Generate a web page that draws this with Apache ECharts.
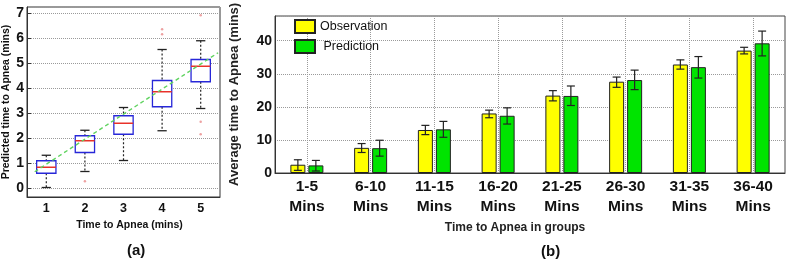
<!DOCTYPE html>
<html>
<head>
<meta charset="utf-8">
<script src="https://cdn.jsdelivr.net/npm/echarts@6/dist/echarts.min.js"></script>
<style>
  html, body { margin: 0; padding: 0; background: #fff; }
  #chart { width: 788px; height: 265px; }
</style>
</head>
<body>
<div id="chart"></div>
<script type="text/javascript">
// (a) box plot: predicted vs actual time to apnea
var boxCats = ['1', '2', '3', '4', '5'];
var boxLow  = [0.04, 0.68, 1.12, 2.31, 3.20];
var boxQ1   = [0.61, 1.44, 2.17, 3.27, 4.27];
var boxMed  = [0.85, 1.91, 2.61, 3.87, 4.89];
var boxQ3   = [1.11, 2.11, 2.91, 4.32, 5.16];
var boxHigh = [1.33, 2.33, 3.24, 5.56, 5.91];
// outliers: [category index, value]
var outliers = [[1, 0.29], [3, 6.17], [3, 6.37], [4, 2.17], [4, 2.67], [4, 6.93]];
// dashed fit line, [x, y] on the 1..5 scale
var fitLine = [[0.7, 0.67], [5.45, 5.43]];

// (b) grouped bars with error bars
var groupLabels = ['1-5\nMins', '6-10\nMins', '11-15\nMins', '16-20\nMins', '21-25\nMins', '26-30\nMins', '31-35\nMins', '36-40\nMins'];
var obsMean  = [2.5, 7.6, 13.0, 18.0, 23.4, 27.6, 32.8, 37.0];
var obsLow   = [0.8, 6.2, 11.6, 16.7, 21.8, 25.9, 31.4, 36.0];
var obsHigh  = [4.0, 8.9, 14.4, 19.0, 24.9, 29.0, 34.2, 38.0];
var predMean = [2.3, 7.5, 13.2, 17.3, 23.3, 28.1, 32.0, 39.2];
var predLow  = [0.6, 5.1, 10.8, 14.8, 20.4, 25.2, 28.7, 35.4];
var predHigh = [3.8, 9.9, 15.6, 19.7, 26.3, 31.1, 35.2, 42.9];

var FONT = '"Liberation Sans", Arial, sans-serif';
var myChart = echarts.init(document.getElementById('chart'));

// box: blue frame, red median, dashed black whiskers
function renderBox(params, api) {
	var i = api.value(0);
	var band = api.size([1, 0])[0];
	var hw = band * 0.25, cw = band * 0.12;
	var pLow = api.coord([i, api.value(1)]);
	var pQ1 = api.coord([i, api.value(2)]);
	var pMed = api.coord([i, api.value(3)]);
	var pQ3 = api.coord([i, api.value(4)]);
	var pHigh = api.coord([i, api.value(5)]);
	var x = pMed[0];
	var dash = { stroke: '#222', lineWidth: 1.2, lineDash: [2, 2] };
	var solid = { stroke: '#222', lineWidth: 1.3 };
	return {
		type: 'group',
		children: [
			{ type: 'line', shape: { x1: x, y1: pHigh[1], x2: x, y2: pQ3[1] }, style: dash },
			{ type: 'line', shape: { x1: x, y1: pQ1[1], x2: x, y2: pLow[1] }, style: dash },
			{ type: 'line', shape: { x1: x - cw, y1: pHigh[1], x2: x + cw, y2: pHigh[1] }, style: solid },
			{ type: 'line', shape: { x1: x - cw, y1: pLow[1], x2: x + cw, y2: pLow[1] }, style: solid },
			{ type: 'rect', shape: { x: x - hw, y: pQ3[1], width: hw * 2, height: pQ1[1] - pQ3[1] },
			  style: { fill: '#fff', stroke: '#2727d8', lineWidth: 1.3 } },
			{ type: 'line', shape: { x1: x - hw, y1: pMed[1], x2: x + hw, y2: pMed[1] },
			  style: { stroke: '#e8322a', lineWidth: 1.5 } }
		]
	};
}

// error bar, shifted sideways onto its bar
function errorBar(offset) {
	return function (params, api) {
		var i = api.value(0);
		var lo = api.coord([i, api.value(1)]);
		var hi = api.coord([i, api.value(2)]);
		var x = lo[0] + offset, c = 4;
		var st = { stroke: '#222', lineWidth: 1.2 };
		return {
			type: 'group',
			children: [
				{ type: 'line', shape: { x1: x, y1: hi[1], x2: x, y2: lo[1] }, style: st },
				{ type: 'line', shape: { x1: x - c, y1: hi[1], x2: x + c, y2: hi[1] }, style: st },
				{ type: 'line', shape: { x1: x - c, y1: lo[1], x2: x + c, y2: lo[1] }, style: st }
			]
		};
	};
}

var boxData = boxCats.map(function (c, i) {
	return [i, boxLow[i], boxQ1[i], boxMed[i], boxQ3[i], boxHigh[i]];
});
var obsErr = obsLow.map(function (v, i) { return [i, v, obsHigh[i]]; });
var predErr = predLow.map(function (v, i) { return [i, v, predHigh[i]]; });

var bold = { fontFamily: FONT, fontWeight: 'bold', color: '#111' };
var dotted = { show: true, lineStyle: { type: 'dotted', color: '#9a9a9a', width: 1 } };

option = {
	animation: false,
	backgroundColor: '#fff',
	title: [
		{ text: '(a)', left: 127, top: 243, padding: 0, textStyle: { fontFamily: FONT, fontWeight: 'bold', fontSize: 15, color: '#111' } },
		{ text: '(b)', left: 541, top: 244, padding: 0, textStyle: { fontFamily: FONT, fontWeight: 'bold', fontSize: 15, color: '#111' } }
	],
	legend: {
		data: ['Observation', ' Prediction'],
		orient: 'vertical',
		left: 294,
		top: 19,
		padding: 0,
		itemGap: 5,
		itemWidth: 20,
		itemHeight: 13,
		icon: 'rect',
		textStyle: { fontFamily: FONT, fontSize: 12.5, color: '#111' }
	},
	grid: [
		{ left: 27, top: 7, width: 193, height: 190, show: true, borderColor: '#333', borderWidth: 1 },
		{ left: 275, top: 7, width: 510, height: 166, show: true, borderColor: '#444', borderWidth: 1 }
	],
	xAxis: [
		{
			type: 'category', gridIndex: 0, data: boxCats, boundaryGap: true,
			axisLine: { onZero: false, lineStyle: { color: '#333' } },
			axisTick: { inside: true, alignWithLabel: true, length: 4, lineStyle: { color: '#333' } },
			axisLabel: Object.assign({ fontSize: 12.5, margin: 5 }, bold),
			splitLine: { show: false },
			name: 'Time to Apnea (mins)', nameLocation: 'middle', nameGap: 16,
			nameTextStyle: Object.assign({ fontSize: 10.5, padding: [0, 0, 0, 12] }, bold)
		},
		{ type: 'value', gridIndex: 0, min: 0.5, max: 5.5, show: false },
		{
			type: 'category', gridIndex: 1, data: groupLabels, boundaryGap: true,
			axisLine: { onZero: false, lineStyle: { color: '#333' } },
			axisTick: { inside: true, alignWithLabel: true, length: 4, lineStyle: { color: '#333' } },
			axisLabel: Object.assign({ fontSize: 15.5, lineHeight: 20, margin: 4 }, bold),
			splitLine: { show: true, alignWithLabel: true, lineStyle: { type: 'dotted', color: '#9a9a9a', width: 1 } },
			name: 'Time to Apnea in groups', nameLocation: 'middle', nameGap: 47,
			nameTextStyle: Object.assign({ fontSize: 12, padding: [0, 30, 0, 0] }, bold, { color: '#222' })
		}
	],
	yAxis: [
		{
			type: 'value', gridIndex: 0, min: -0.34, max: 7.26, splitNumber: 8,
			axisLine: { show: true, onZero: false, lineStyle: { color: '#333' } },
			axisTick: { inside: true, length: 4, lineStyle: { color: '#333' } },
			axisLabel: Object.assign({ fontSize: 14, margin: 3, showMinLabel: false, showMaxLabel: false }, bold),
			splitLine: dotted,
			name: 'Predicted time to Apnea (mins)', nameLocation: 'middle', nameGap: 15,
			nameTextStyle: Object.assign({ fontSize: 10.5 }, bold)
		},
		{
			type: 'value', gridIndex: 1, min: 0, max: 47.46, interval: 10,
			axisLine: { show: true, lineStyle: { color: '#333' } },
			axisTick: { inside: true, length: 4, lineStyle: { color: '#333' } },
			axisLabel: Object.assign({ fontSize: 14, margin: 3, showMaxLabel: false }, bold),
			splitLine: dotted,
			name: 'Average time to Apnea (mins)', nameLocation: 'middle', nameGap: 34,
			nameTextStyle: Object.assign({ fontSize: 13 }, bold, { color: '#222' })
		}
	],
	series: [
		{
			type: 'custom', name: 'box', xAxisIndex: 0, yAxisIndex: 0,
			renderItem: renderBox, encode: { x: 0, y: [1, 2, 3, 4, 5] },
			data: boxData, z: 2
		},
		{
			type: 'scatter', name: 'outliers', xAxisIndex: 0, yAxisIndex: 0,
			symbol: 'circle', symbolSize: 2.5,
			itemStyle: { color: '#e88a8a' },
			data: outliers, z: 3
		},
		{
			type: 'line', name: 'fit', xAxisIndex: 1, yAxisIndex: 0,
			data: fitLine, showSymbol: false,
			lineStyle: { color: '#5fd35f', width: 1.4, type: [4, 3] }, z: 4
		},
		{
			type: 'bar', name: 'Observation', xAxisIndex: 2, yAxisIndex: 1,
			data: obsMean, barWidth: 15, barGap: '20%',
			itemStyle: { color: '#ffff00', borderColor: '#222', borderWidth: 1 }
		},
		{
			type: 'bar', name: ' Prediction', xAxisIndex: 2, yAxisIndex: 1,
			data: predMean, barWidth: 15,
			itemStyle: { color: '#00e400', borderColor: '#222', borderWidth: 1 }
		},
		{
			type: 'custom', name: 'obsErr', xAxisIndex: 2, yAxisIndex: 1,
			renderItem: errorBar(-9), encode: { x: 0, y: [1, 2] }, data: obsErr, z: 5
		},
		{
			type: 'custom', name: 'predErr', xAxisIndex: 2, yAxisIndex: 1,
			renderItem: errorBar(9), encode: { x: 0, y: [1, 2] }, data: predErr, z: 5
		}
	]
};

myChart.setOption(option);
</script>
</body>
</html>
